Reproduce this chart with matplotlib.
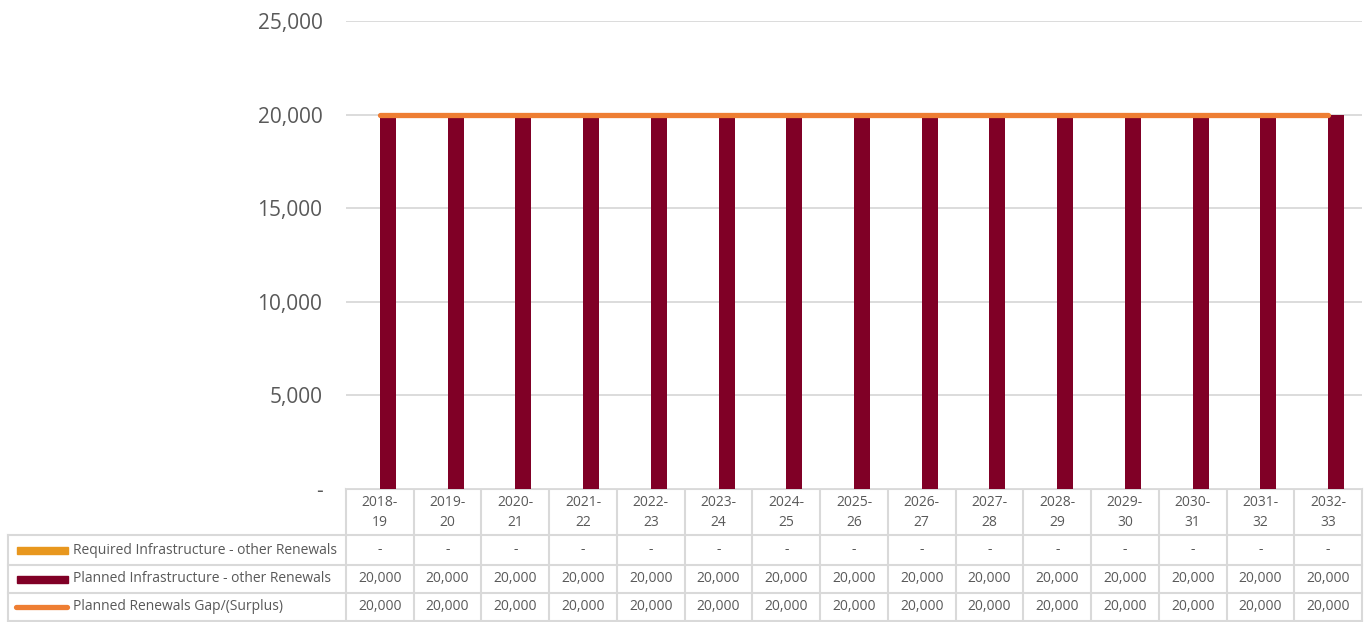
import numpy as np
import matplotlib.pyplot as plt

plt.rcParams["font.family"] = ["Open Sans", "DejaVu Sans"]

years = ["2018-\n19", "2019-\n20", "2020-\n21", "2021-\n22", "2022-\n23",
         "2023-\n24", "2024-\n25", "2025-\n26", "2026-\n27", "2027-\n28",
         "2028-\n29", "2029-\n30", "2030-\n31", "2031-\n32", "2032-\n33"]
required = [0] * 15
planned = [20000] * 15
gap = [20000] * 15

series_names = ["Required Infrastructure - other Renewals",
                "Planned Infrastructure - other Renewals",
                "Planned Renewals Gap/(Surplus)"]

c_req = "#E8971E"
c_plan = "#800026"
c_gap = "#EE7E33"
grey = "#D9D9D9"
txt = "#595959"

W, H = 1365, 622
fig = plt.figure(figsize=(W / 100, H / 100), dpi=100)
ax = fig.add_axes([346 / W, 1 - 489 / H, (1362 - 346) / W, (489 - 21) / H])

x = np.arange(len(years))
w = 0.236
ax.bar(x - w / 2, required, w, color=c_req, zorder=2)
ax.bar(x + w / 2, planned, w, color=c_plan, zorder=2)
ax.plot(x, gap, color=c_gap, lw=3.8, solid_capstyle="round", zorder=3)

ax.set_xlim(-0.5, len(years) - 0.5)
ax.set_ylim(0, 25000)
yt = np.arange(0, 25001, 5000)
ax.set_yticks(yt)
ax.set_yticklabels(["-" if v == 0 else f"{v:,}" for v in yt])
ax.tick_params(axis="y", length=0, pad=17, labelsize=15, labelcolor=txt)
ax.set_xticks([])
for s in ax.spines.values():
    s.set_visible(False)
ax.grid(axis="y", color=grey, lw=1.3, zorder=0)
ax.set_axisbelow(True)

# data table underneath, drawn on a pixel-space overlay
tb = fig.add_axes([0, 0, 1, 1], zorder=-1)
tb.set_xlim(0, W)
tb.set_ylim(H, 0)
tb.axis("off")

edges = ax.transData.transform(np.c_[np.arange(len(years) + 1) - 0.5,
                                     np.zeros(len(years) + 1)])[:, 0]
centers = (edges[:-1] + edges[1:]) / 2
left = 8
rows = [489, 535, 565, 593, 620.5]

tb.plot([edges[0], edges[-1]], [rows[0], rows[0]], color=grey, lw=1.5)
for r in rows[1:]:
    tb.plot([left, edges[-1]], [r, r], color=grey, lw=1.5)
for e in edges:
    tb.plot([e, e], [rows[0], rows[-1]], color=grey, lw=1.5)
tb.plot([left, left], [rows[1], rows[-1]], color=grey, lw=1.5)

for cx, yr in zip(centers, years):
    top, bot = yr.split("\n")
    tb.text(cx, 503, top, ha="center", va="center", fontsize=10, color=txt)
    tb.text(cx, 522, bot, ha="center", va="center", fontsize=10, color=txt)

row_vals = [required, planned, gap]
for i, (name, vals) in enumerate(zip(series_names, row_vals)):
    yc = (rows[i + 1] + rows[i + 2]) / 2
    if i < 2:
        tb.add_patch(plt.Rectangle((17, yc - 3.5), 51, 7,
                                   color=[c_req, c_plan][i]))
    else:
        tb.plot([16, 67], [yc, yc], color=c_gap, lw=3.8,
                solid_capstyle="round")
    tb.text(73, yc, name, ha="left", va="center", fontsize=10, color=txt)
    for cx, v in zip(centers, vals):
        tb.text(cx, yc, "-" if v == 0 else f"{v:,}", ha="center",
                va="center", fontsize=10, color=txt)

fig.savefig("out.png", dpi=100)
